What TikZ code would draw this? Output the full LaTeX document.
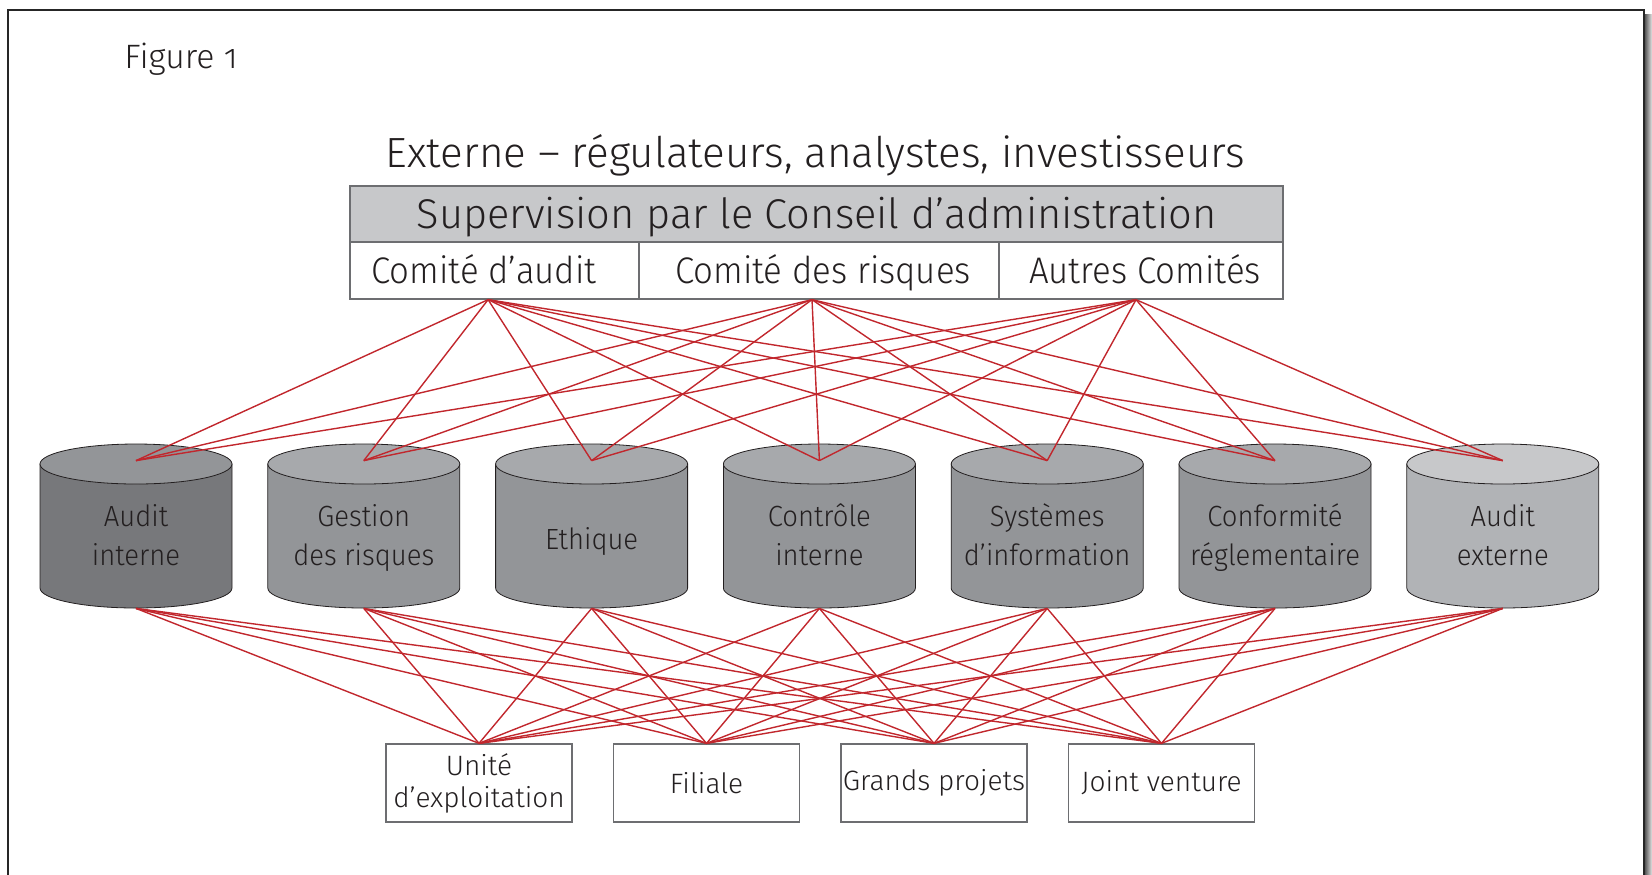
\documentclass[tikz,border=0pt]{standalone}
\usepackage{fontspec}
\setmainfont{Fira Sans Light}[Numbers=OldStyle]
\newfontfamily\narrowfont{Fira Sans Light}[FakeStretch=0.94, Numbers=OldStyle]
\usetikzlibrary{positioning}
\definecolor{linkred}{HTML}{C1272D}
\definecolor{boardgrey}{HTML}{C7C8CA}
\definecolor{inkgrey}{HTML}{231F20}
\definecolor{rimgrey}{HTML}{6D6E71}
\definecolor{bodydark}{HTML}{77787B}
\definecolor{topdark}{HTML}{939598}
\definecolor{bodymid}{HTML}{939598}
\definecolor{topmid}{HTML}{A7A9AC}
\definecolor{bodylight}{HTML}{B1B3B6}
\definecolor{toplight}{HTML}{C7C8CA}

\tikzset{
  cell/.style={draw=rimgrey, line width=0.65pt, fill=white, minimum height=28.5pt,
    inner sep=0pt, text=inkgrey, text height=12.7pt, text depth=0pt,
    font=\narrowfont\fontsize{18.5}{22}\selectfont},
  unit/.style={draw=rimgrey, line width=0.65pt, fill=white, minimum width=93pt,
    minimum height=39pt, inner sep=0pt, align=center, text=inkgrey,
    font=\fontsize{14}{16}\selectfont},
  drum/.style={minimum width=96pt, minimum height=73.5pt, inner sep=0pt,
    align=center, text=inkgrey, text depth=0pt,
    font=\narrowfont\fontsize{14.6}{19.5}\selectfont},
  link/.style={linkred, line width=0.7pt},
}

\begin{document}
\begin{tikzpicture}[x=0.5pt, y=-0.5pt]
  \clip (0,0) rectangle (1652,874);
  % page frame
  \shade[left color=black!65, right color=black!10] (1645,14) rectangle (1652,874);
  \draw[black!85, line width=0.6pt] (8,10) rectangle (1644,900);

  \node[anchor=base west, inner sep=0pt, text=inkgrey,
    font=\fontsize{16.9}{20}\selectfont] (figlabel) at (124,68) {Figure 1};
  \node[anchor=base, inner sep=0pt, text=inkgrey,
    font=\fontsize{21.1}{26}\selectfont] (extern) at (815.5,167)
    {Externe – régulateurs, analystes, investisseurs};

  % board and committees
  \node[cell, fill=boardgrey, minimum width=466.5pt, minimum height=28pt,
    text height=14.3pt, font=\fontsize{20.8}{24}\selectfont] (board) at (816.5,214)
    {Supervision par le Conseil d’administration};
  \node[cell, minimum width=144.5pt] (audcom) at (494.5,270.5) {Comité d’audit\kern10.5pt};
  \node[cell, minimum width=180pt] (riskcom) at (819,270.5) {\kern4pt Comité des risques};
  \node[cell, minimum width=142pt] (othcom) at (1141,270.5) {\kern4pt Autres Comités};

  % cylinders
  \foreach \i/\bc/\tc in {1/bodydark/topdark, 2/bodymid/topmid, 3/bodymid/topmid,
      4/bodymid/topmid, 5/bodymid/topmid, 6/bodymid/topmid, 7/bodylight/toplight} {
    \pgfmathsetmacro\cx{136+(\i-1)*227.8}
    \filldraw[fill=\bc, draw=inkgrey, line width=0.4pt] (\cx-96,464) -- (\cx-96,588)
      arc[start angle=180, end angle=360, x radius=48pt, y radius=10pt]
      -- (\cx+96,464) -- cycle;
    \filldraw[fill=\tc, draw=inkgrey, line width=0.4pt]
      (\cx,464) ellipse [x radius=48pt, y radius=10pt];
  }
  \node[drum] (audint) at (136,534.5) {Audit\\interne};
  \node[drum] (risk) at (363.8,534.5) {Gestion\\des risques};
  \node[drum, text height=14.5pt] (ethic) at (591.6,534.5) {Ethique};
  \node[drum] (ctrl) at (819.4,534.5) {Contrôle\\interne};
  \node[drum] (infosys) at (1047.2,534.5) {Systèmes\\d’information};
  \node[drum] (comply) at (1275,534.5) {Conformité\\réglementaire};
  \node[drum] (audext) at (1502.8,534.5) {Audit\\externe};

  % entities
  \node[unit] (opunit) at (479,783) {Unité\\d’exploitation};
  \node[unit] (subsid) at (706.5,783) {Filiale};
  \node[unit] (project) at (934,783) {Grands projets};
  \node[unit] (jv) at (1161.5,783) {Joint venture};

  % links
  \foreach \c/\dx in {audcom/-3.2pt, riskcom/-3.5pt, othcom/-2.5pt}
    \foreach \d in {audint,risk,ethic,ctrl,infosys,comply,audext}
      \draw[link] ([xshift=\dx]\c.south) -- (\d.north);
  \foreach \d in {audint,risk,ethic,ctrl,infosys,comply,audext}
    \foreach \u in {opunit,subsid,project,jv}
      \draw[link] (\d.south) -- (\u.north);
\end{tikzpicture}
\end{document}
